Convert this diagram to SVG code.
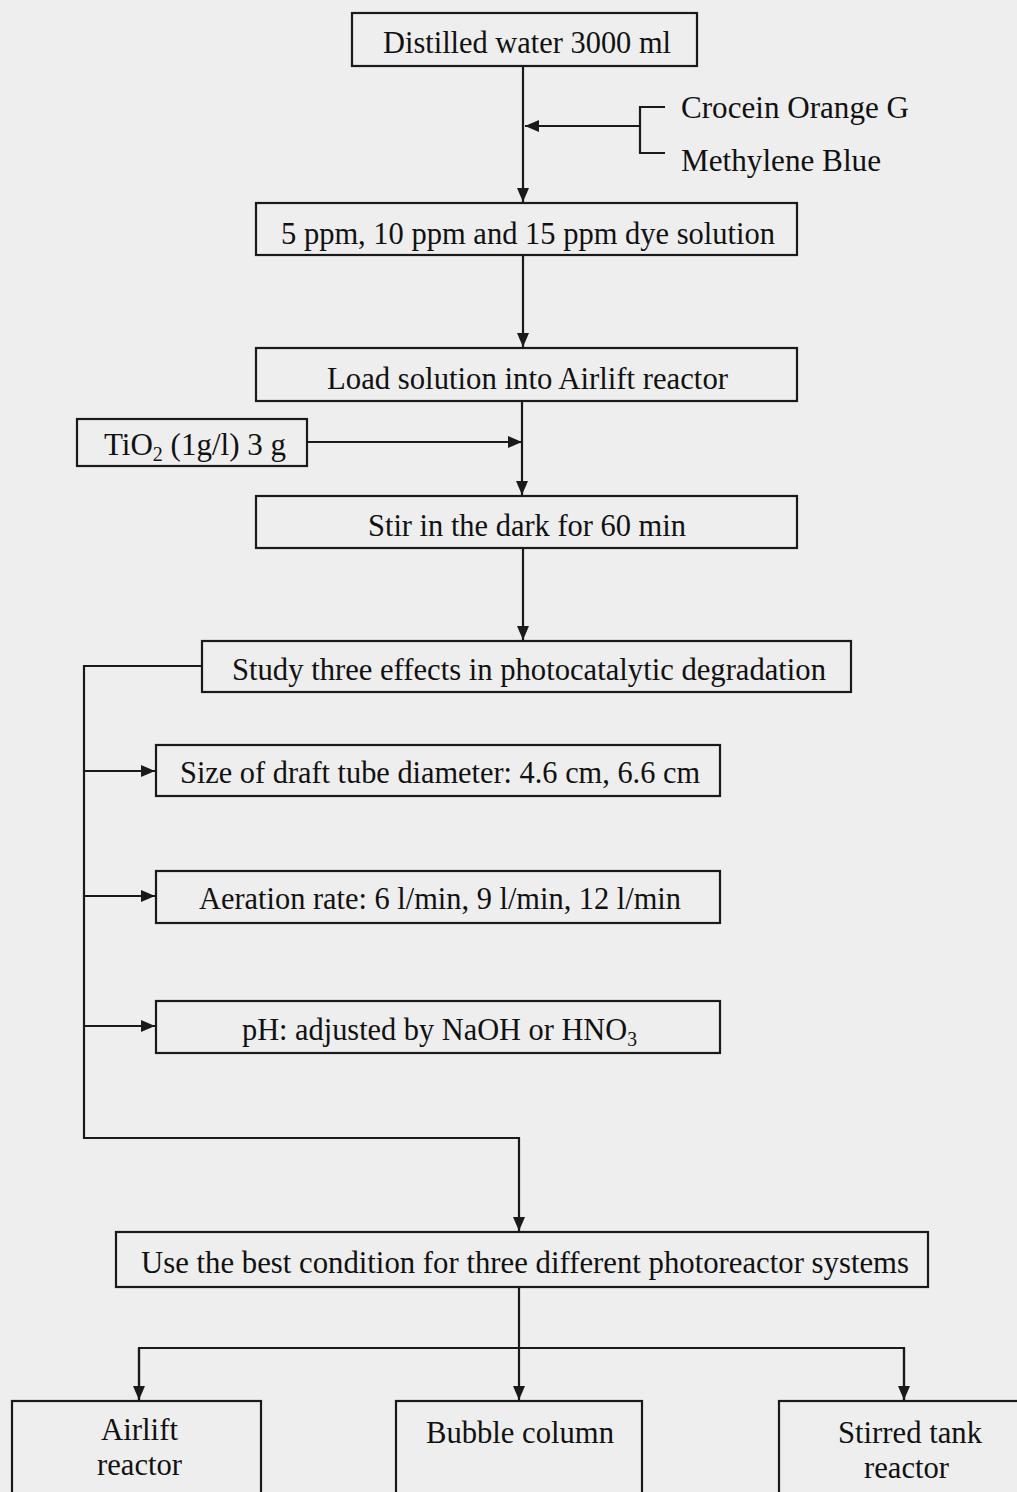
<svg xmlns="http://www.w3.org/2000/svg" width="1017" height="1492" viewBox="0 0 1017 1492">
<style>
.bx{fill:none;stroke:#1a1a1a;stroke-width:2.2}
.ln{fill:none;stroke:#1a1a1a;stroke-width:2.2}
.t{font-family:"Liberation Serif","Times New Roman",serif;font-size:31px;fill:#111}
.s{font-size:20px}
</style>
<defs>
<marker id="ah" viewBox="0 0 14 12" refX="14" refY="6" markerWidth="14" markerHeight="12" markerUnits="userSpaceOnUse" orient="auto">
<path d="M0,0 L14,6 L0,12 Z" fill="#1a1a1a"/>
</marker>
</defs>
<rect width="1017" height="1492" fill="#eeeeee"/>
<g id="connectors">
<line class="ln" x1="523" y1="66" x2="523" y2="202" marker-end="url(#ah)"/>
<path class="ln" d="M665,107 H640 V153 H665"/>
<line class="ln" x1="640" y1="126" x2="525" y2="126" marker-end="url(#ah)"/>
<line class="ln" x1="523" y1="255" x2="523" y2="347" marker-end="url(#ah)"/>
<line class="ln" x1="522" y1="401" x2="522" y2="495" marker-end="url(#ah)"/>
<line class="ln" x1="307" y1="442" x2="522" y2="442" marker-end="url(#ah)"/>
<line class="ln" x1="523" y1="548" x2="523" y2="640" marker-end="url(#ah)"/>
<path class="ln" d="M202,666 H84 V1138 H519 V1231" marker-end="url(#ah)"/>
<line class="ln" x1="84" y1="771" x2="155" y2="771" marker-end="url(#ah)"/>
<line class="ln" x1="84" y1="896" x2="155" y2="896" marker-end="url(#ah)"/>
<line class="ln" x1="84" y1="1026" x2="155" y2="1026" marker-end="url(#ah)"/>
<line class="ln" x1="519" y1="1287" x2="519" y2="1400" marker-end="url(#ah)"/>
<path class="ln" d="M139,1400 V1348 H904 V1400"/>
<line class="ln" x1="139" y1="1348" x2="139" y2="1400" marker-end="url(#ah)"/>
<line class="ln" x1="904" y1="1348" x2="904" y2="1400" marker-end="url(#ah)"/>
</g>
<g id="n1"><rect class="bx" x="352" y="13" width="345" height="53"/><text class="t" x="383" y="53" textLength="288" lengthAdjust="spacingAndGlyphs">Distilled water 3000 ml</text></g>
<g id="dyes"><text class="t" x="681" y="118" textLength="228" lengthAdjust="spacingAndGlyphs">Crocein Orange G</text><text class="t" x="681" y="171" textLength="200" lengthAdjust="spacingAndGlyphs">Methylene Blue</text></g>
<g id="n2"><rect class="bx" x="256" y="203" width="541" height="52"/><text class="t" x="281" y="244" textLength="494" lengthAdjust="spacingAndGlyphs">5 ppm, 10 ppm and 15 ppm dye solution</text></g>
<g id="n3"><rect class="bx" x="256" y="348" width="541" height="53"/><text class="t" x="327" y="389" textLength="401" lengthAdjust="spacingAndGlyphs">Load solution into Airlift reactor</text></g>
<g id="tio2"><rect class="bx" x="77" y="419" width="230" height="47"/><text class="t" x="104" y="455" textLength="182" lengthAdjust="spacingAndGlyphs">TiO<tspan class="s" dy="6">2</tspan><tspan dy="-6"> (1g/l) 3 g</tspan></text></g>
<g id="n4"><rect class="bx" x="256" y="496" width="541" height="52"/><text class="t" x="368" y="536" textLength="318" lengthAdjust="spacingAndGlyphs">Stir in the dark for 60 min</text></g>
<g id="n5"><rect class="bx" x="202" y="641" width="649" height="51"/><text class="t" x="232" y="680" textLength="594" lengthAdjust="spacingAndGlyphs">Study three effects in photocatalytic degradation</text></g>
<g id="e1"><rect class="bx" x="156" y="745" width="564" height="51"/><text class="t" x="180" y="783" textLength="520" lengthAdjust="spacingAndGlyphs">Size of draft tube diameter: 4.6 cm, 6.6 cm</text></g>
<g id="e2"><rect class="bx" x="156" y="871" width="564" height="52"/><text class="t" x="199" y="909" textLength="482" lengthAdjust="spacingAndGlyphs">Aeration rate: 6 l/min, 9 l/min, 12 l/min</text></g>
<g id="e3"><rect class="bx" x="156" y="1001" width="564" height="52"/><text class="t" x="242" y="1040" textLength="395" lengthAdjust="spacingAndGlyphs">pH: adjusted by NaOH or HNO<tspan class="s" dy="6">3</tspan></text></g>
<g id="n6"><rect class="bx" x="116" y="1232" width="812" height="55"/><text class="t" x="141" y="1273" textLength="768" lengthAdjust="spacingAndGlyphs">Use the best condition for three different photoreactor systems</text></g>
<g id="r1"><rect class="bx" x="12" y="1401" width="249" height="100"/><text class="t" x="101" y="1440" textLength="77" lengthAdjust="spacingAndGlyphs">Airlift</text><text class="t" x="97" y="1475" textLength="85" lengthAdjust="spacingAndGlyphs">reactor</text></g>
<g id="r2"><rect class="bx" x="396" y="1401" width="246" height="100"/><text class="t" x="426" y="1443" textLength="188" lengthAdjust="spacingAndGlyphs">Bubble column</text></g>
<g id="r3"><rect class="bx" x="779" y="1401" width="250" height="100"/><text class="t" x="838" y="1443" textLength="144" lengthAdjust="spacingAndGlyphs">Stirred tank</text><text class="t" x="864" y="1478" textLength="85" lengthAdjust="spacingAndGlyphs">reactor</text></g>
</svg>
